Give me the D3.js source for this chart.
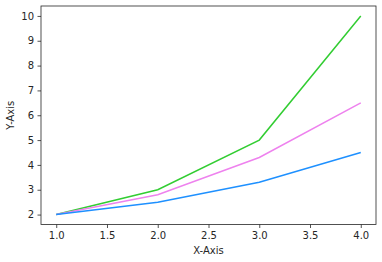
<!DOCTYPE html>
<html><head><meta charset="utf-8">
<script src="https://cdn.jsdelivr.net/npm/d3@7"></script>
<style>body{margin:0;background:#fff}svg{display:block}text{font-family:"DejaVu Sans";}</style>
</head><body>
<svg id="c" width="382" height="262"></svg>
<script>
const xValues = [1, 2, 3, 4];
const greenValues = [2, 3, 5, 10];
const violetValues = [2, 2.8, 4.3, 6.5];
const blueValues = [2, 2.5, 3.3, 4.5];
const xTicks = [1.0, 1.5, 2.0, 2.5, 3.0, 3.5, 4.0];
const yTicks = [2, 3, 4, 5, 6, 7, 8, 9, 10];
const seriesList = [
  {values: greenValues, color: "#32CD32"},
  {values: violetValues, color: "#EE82EE"},
  {values: blueValues, color: "#1E90FF"}
];

const L = 41, R = 376, T = 6, B = 224.5;
const svg = d3.select("#c");
const x = d3.scaleLinear().domain([0.85, 4.15]).range([L, R]);
const y = d3.scaleLinear().domain([1.6, 10.4]).range([B, T]);

const line = d3.line().x((d, i) => x(xValues[i])).y(d => y(d));
seriesList.forEach(s => {
  svg.append("path").attr("d", line(s.values)).attr("fill", "none")
    .attr("stroke", s.color).attr("stroke-width", 1.5);
});

const xa = svg.append("g").attr("transform", `translate(0,${B})`)
  .call(d3.axisBottom(x).tickValues(xTicks).tickFormat(d3.format(".1f")).tickSize(3.5).tickPadding(3.5));
const ya = svg.append("g").attr("transform", `translate(${L},0)`)
  .call(d3.axisLeft(y).tickValues(yTicks).tickFormat(d3.format("d")).tickSize(3.5).tickPadding(3.5));
[xa, ya].forEach(a => {
  a.select(".domain").remove();
  a.selectAll("text").attr("font-size", 10).attr("fill", "#262626").attr("font-family", "DejaVu Sans");
  a.selectAll("line").attr("stroke", "#262626").attr("stroke-width", 0.8);
});

svg.append("rect").attr("x", L).attr("y", T).attr("width", R - L).attr("height", B - T)
  .attr("fill", "none").attr("stroke", "#262626").attr("stroke-width", 0.8);

svg.append("text").attr("x", (L + R) / 2).attr("y", 254).attr("text-anchor", "middle")
  .attr("font-size", 10).attr("fill", "#262626").text("X-Axis");
svg.append("text").attr("transform", `translate(14,${(T + B) / 2}) rotate(-90)`).attr("text-anchor", "middle")
  .attr("font-size", 10).attr("fill", "#262626").text("Y-Axis");
</script>
</body></html>
